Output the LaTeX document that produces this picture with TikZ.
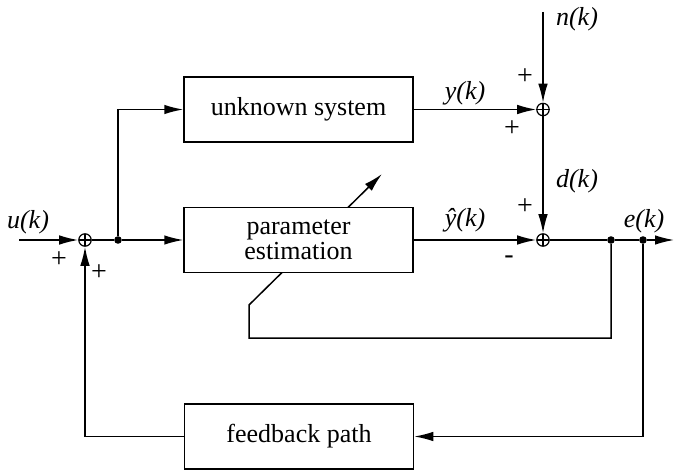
\documentclass[tikz,border=0pt]{standalone}
\usepackage{fontspec}
\setmainfont{Liberation Serif}
\usepackage{tikz}
\usetikzlibrary{arrows.meta,positioning,backgrounds}
\tikzset{
  every node/.style={
    font=\fontsize{13}{12.5}\selectfont
  },
  block/.style={
    shape=rectangle,
    draw=black,
    fill=white,
    line width=0.75pt,
    minimum width=114.5pt,
    minimum height=32.5pt,
    align=center
  },
  summer/.style={
    shape=circle,
    draw=black,
    line width=0.6pt,
    minimum size=6.2pt,
    inner sep=0pt,
    path picture={
      \draw[line width=0.6pt]
        (path picture bounding box.north) -- (path picture bounding box.south)
        (path picture bounding box.west) -- (path picture bounding box.east);
    }
  },
  junction/.style={
    shape=circle,
    fill=black,
    minimum size=3.8pt,
    inner sep=0pt
  },
  wire/.style={
    line width=0.75pt
  },
  signal/.style={
    wire,
    -{Latex[length=9.5pt,width=4.8pt]}
  },
  sig label/.style={
    font=\fontsize{13}{12.5}\selectfont\itshape
  },
  sign label/.style={
    font=\fontsize{14}{14}\selectfont
  }
}

\begin{document}
\begin{tikzpicture}[x=0.5pt,y=-0.5pt]
  \useasboundingbox (0,0) rectangle (674,470);
  \node[block] (plant) at (298.5,109.5) {unknown system};
  \node[block] (estim) at (298.5,240) {parameter\\estimation};
  \node[block] (fback) at (299,436.5) {feedback path};
  \node[summer] (sumin) at (85,240) {};
  \node[summer] (sumnoise) at (543,109.5) {};
  \node[summer] (sumerr) at (543,240) {};
  \node[junction] (split) at (118,240) {};
  \node[junction] (tapa) at (611,240) {};
  \node[junction] (tapb) at (643,240) {};
  \coordinate (uin) at (19,240);
  \coordinate (nin) at (543,12);
  \coordinate (eout) at (674,240);
  \coordinate (loopl) at (249,338);
  \coordinate (knee) at (249,305);
  \coordinate (tune) at (382,174);

  \draw[signal] (uin) -- (sumin);
  \draw[wire] (sumin) -- (split);
  \draw[signal] (split) -- (estim.west);
  \draw[signal] (split) |- (plant.west);
  \draw[signal] (plant.east) -- (sumnoise);
  \draw[signal] (nin) -- (sumnoise);
  \draw[signal] (sumnoise) -- (sumerr);
  \draw[signal] (estim.east) -- (sumerr);
  \draw[wire] (sumerr) -- (tapa) -- (tapb);
  \draw[signal] (tapb) -- (eout);
  \draw[signal] (tapb) |- (fback.east);
  \draw[signal] (fback.west) -| (sumin);
  \begin{scope}[on background layer]
    \draw[signal] (tapa) |- (loopl) -- (knee) -- (tune);
  \end{scope}

  \node[sig label] (ulab) at (28,222) {u(k)};
  \node[sig label] (ylab) at (465,93) {y(k)};
  \node[sig label] (yhatlab) at (465,220) {\^{y}(k)};
  \node[sig label] (nlab) at (577,19) {n(k)};
  \node[sig label] (dlab) at (577,181) {d(k)};
  \node[sig label] (elab) at (644,221) {e(k)};
  \node[sign label] (pinu) at (59,260) {+};
  \node[sign label] (pinf) at (99,273) {+};
  \node[sign label] (pnoise) at (525,77) {+};
  \node[sign label] (pplant) at (512,129) {+};
  \node[sign label] (pdist) at (525,207) {+};
  \node[sign label] (mest) at (509,260) {-};
\end{tikzpicture}
\end{document}
